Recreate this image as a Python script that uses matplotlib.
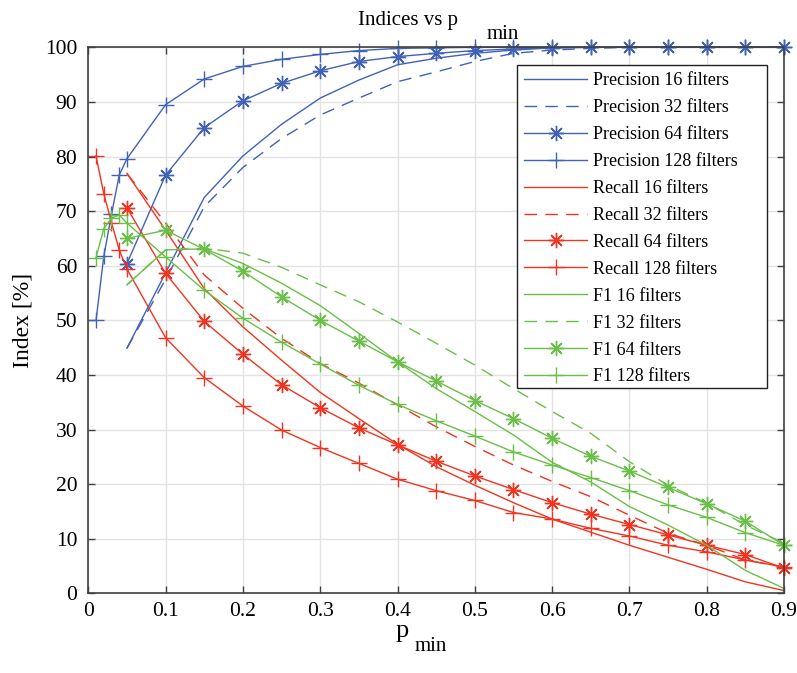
import matplotlib
matplotlib.use("Agg")
import matplotlib.pyplot as plt
from matplotlib.patches import Rectangle

plt.rcParams['font.family'] = ['Liberation Serif', 'DejaVu Serif']

# p_min values
x = [0.05, 0.1, 0.15, 0.2, 0.25, 0.3, 0.35, 0.4, 0.45, 0.5,
     0.55, 0.6, 0.65, 0.7, 0.75, 0.8, 0.85, 0.9]
x128 = [0.01, 0.02, 0.03, 0.04] + x

# Precision
prec16 = [44.9, 58.7, 72.5, 80.1, 85.9, 90.7, 94.0, 96.8, 98.0, 98.9,
          99.5, 99.9, 100, 100, 100, 100, 100, 100]
prec32 = [44.9, 57.5, 70.8, 78.0, 83.3, 87.6, 90.7, 93.7, 95.5, 97.4,
          98.9, 99.5, 99.8, 100, 100, 100, 100, 100]
prec64 = [60.4, 76.6, 85.3, 90.2, 93.4, 95.7, 97.4, 98.3, 98.9, 99.4,
          99.7, 99.9, 100, 100, 100, 100, 100, 100]
prec128 = [50.0, 61.7, 69.4, 76.6, 79.6, 89.5, 94.2, 96.5, 97.8, 98.7,
           99.4, 99.8, 99.9, 100, 100, 100, 100, 100, 100, 100, 100, 100]

# Recall
rec16 = [76.9, 66.5, 55.8, 48.8, 42.7, 36.8, 32.0, 27.3, 23.2, 19.8,
         16.6, 13.6, 11.2, 8.8, 6.6, 4.4, 2.1, 0.5]
rec32 = [76.9, 67.8, 58.3, 52.2, 46.7, 42.1, 38.5, 34.5, 30.5, 26.9,
         23.5, 20.5, 17.7, 14.3, 11.0, 8.8, 6.1, 4.8]
rec64 = [70.6, 58.6, 49.8, 43.8, 38.2, 34.0, 30.3, 27.2, 24.2, 21.5,
         19.0, 16.6, 14.5, 12.6, 10.7, 8.8, 7.1, 4.6]
rec128 = [80.1, 73.2, 67.9, 62.9, 59.4, 46.8, 39.5, 34.3, 29.9, 26.7,
          23.8, 20.9, 18.8, 17.0, 14.8, 13.6, 11.9, 10.5, 8.8, 7.6, 6.1, 4.8]

# F1
f1_16 = [56.5, 62.9, 63.1, 60.4, 56.8, 52.7, 47.6, 42.4, 37.5, 33.3,
         29.0, 24.0, 20.4, 15.9, 12.5, 8.8, 4.2, 0.9]
f1_32 = [56.5, 62.9, 63.2, 62.3, 59.7, 56.5, 53.4, 49.7, 45.8, 41.8,
         37.5, 33.3, 29.3, 24.1, 19.8, 16.5, 12.5, 9.2]
f1_64 = [65.0, 66.5, 63.0, 59.0, 54.3, 50.0, 46.2, 42.4, 38.9, 35.3,
         32.0, 28.4, 25.1, 22.4, 19.4, 16.4, 13.2, 8.8]
f1_128 = [61.5, 66.8, 68.7, 69.3, 67.8, 61.6, 55.5, 50.4, 46.0, 42.0,
          38.1, 34.6, 31.6, 28.8, 25.9, 23.5, 21.2, 18.8, 16.2, 13.9, 11.1, 8.8]

blue = '#4262b8'
red = '#f2331f'
green = '#6abf48'
asterisk = (8, 2, 0)
dash = (9, 6)

fig = plt.figure(figsize=(7.97, 6.73), dpi=100)
ax = fig.add_axes([0.1108, 0.1184, 0.8729, 0.8113])

series = [
    (x, prec16, blue, '-', None, 'Precision 16 filters'),
    (x, prec32, blue, '--', None, 'Precision 32 filters'),
    (x, prec64, blue, '-', asterisk, 'Precision 64 filters'),
    (x128, prec128, blue, '-', '+', 'Precision 128 filters'),
    (x, rec16, red, '-', None, 'Recall 16 filters'),
    (x, rec32, red, '--', None, 'Recall 32 filters'),
    (x, rec64, red, '-', asterisk, 'Recall 64 filters'),
    (x128, rec128, red, '-', '+', 'Recall 128 filters'),
    (x, f1_16, green, '-', None, 'F1 16 filters'),
    (x, f1_32, green, '--', None, 'F1 32 filters'),
    (x, f1_64, green, '-', asterisk, 'F1 64 filters'),
    (x128, f1_128, green, '-', '+', 'F1 128 filters'),
]

for xs, ys, c, ls, mk, lab in series:
    line, = ax.plot(xs, ys, color=c, linestyle=ls, marker=mk, markersize=11,
                    markeredgewidth=1.0, linewidth=1.0, label=lab, clip_on=False)
    if ls == '--':
        line.set_dashes(dash)

ax.set_xlim(0, 0.9)
ax.set_ylim(0, 100)
ax.set_xticks([0, 0.1, 0.2, 0.3, 0.4, 0.5, 0.6, 0.7, 0.8, 0.9])
ax.set_xticklabels(['0', '0.1', '0.2', '0.3', '0.4', '0.5', '0.6', '0.7', '0.8', '0.9'])
ax.set_yticks(range(0, 101, 10))
ax.grid(True, color='#e3e3e3', linewidth=1.0)
ax.set_axisbelow(True)
ax.tick_params(direction='in', length=5, width=1.0, color='#404040',
               labelsize=15.5, top=True, right=True)
ax.tick_params(axis='x', pad=6)
ax.tick_params(axis='y', pad=8)
for s in ax.spines.values():
    s.set_color('#404040')
    s.set_linewidth(1.2)

# title and x label drawn MATLAB style with a detached subscript
fig.text(0.5747, 0.9629, 'Indices vs p', fontsize=15, ha='right', va='baseline')
fig.text(0.611, 0.942, 'min', fontsize=15, ha='left', va='baseline')
fig.text(0.5044, 0.053, 'p', fontsize=19, ha='center', va='baseline')
fig.text(0.5207, 0.032, 'min', fontsize=15, ha='left', va='baseline')
ax.set_ylabel('Index [%]', fontsize=17, labelpad=8)

# legend box is wider than its content, as in MATLAB
box_l, box_r, box_b, box_t = 0.616, 0.975, 0.376, 0.9676
ax.add_patch(Rectangle((box_l, box_b), box_r - box_l, box_t - box_b,
                       transform=ax.transAxes, facecolor='white',
                       edgecolor='#222222', linewidth=1.0, zorder=4.9,
                       clip_on=False))
leg = ax.legend(loc='upper left', bbox_to_anchor=(box_l, box_t),
                borderaxespad=0, fontsize=13, frameon=False,
                handlelength=3.5, labelspacing=0.55, handletextpad=0.3,
                borderpad=0.4)

fig.savefig('out.png', dpi=100)
